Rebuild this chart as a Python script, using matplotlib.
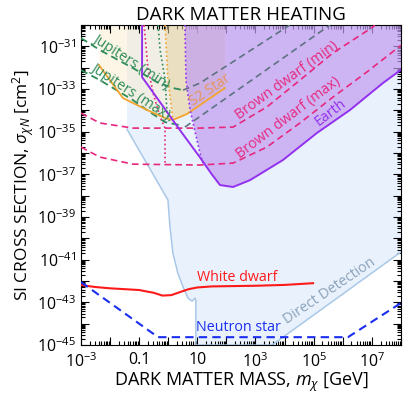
import numpy as np
import matplotlib
matplotlib.use("Agg")
import matplotlib.pyplot as plt
from matplotlib.ticker import FixedLocator, FuncFormatter, NullFormatter, LogLocator

plt.rcParams['font.family'] = ['Open Sans', 'DejaVu Sans']
plt.rcParams['mathtext.fontset'] = 'custom'
plt.rcParams['mathtext.rm'] = 'Open Sans'
plt.rcParams['mathtext.it'] = 'Open Sans:italic'
plt.rcParams['mathtext.bf'] = 'Open Sans:bold'

# all values as log10(mass / GeV), log10(sigma / cm^2)
dd_lm = [-1.42, -1.42, -0.01, 0.06, 0.16, 0.33, 0.51, 0.68, 0.82, 0.92, 0.95, 0.95, 3.57, 8.0, 8.0]
dd_ls = [-30.0, -34.88, -38.2, -39.47, -40.69, -41.63, -42.28, -42.8, -42.94, -42.8, -42.9, -45.0, -45.0, -40.64, -30.0]

s2_lm = [-2.38, -1.56, -0.73, -0.11, 0.16, 0.64, 1.95]
s2_ls = [-31.88, -33.42, -33.98, -34.36, -34.45, -34.17, -32.95]
s2_dot_lm = [-0.11, -0.01, 0.16]
s2_dot_ls = [-30.0, -32.58, -34.4]

earth_lm = [-0.90, -0.90, -0.76, 0.40, 1.09, 1.50, 1.78, 2.23, 2.81, 3.94, 5.11, 6.25, 7.38, 8.0]
earth_ls = [-30.0, -32.44, -32.7, -34.92, -36.2, -37.0, -37.5, -37.59, -37.27, -36.33, -35.06, -33.98, -32.72, -32.1]
earth_dot_lm = [0.575, 0.61, 0.75, 1.09, 1.19]
earth_dot_ls = [-30.0, -32.58, -33.98, -36.0, -36.47]

jup_min_lm = [-3.0, -2.35, -1.21, -0.39, 0.16, 0.51]
jup_min_ls = [-30.61, -31.17, -32.02, -32.67, -32.95, -33.05]
jup_max_lm = [-3.0, -2.35, -1.21, -0.63, -0.11, 0.40]
jup_max_ls = [-32.11, -32.58, -33.52, -34.08, -34.55, -34.69]
jup_dot_lm = [-0.35, -0.28, -0.11, -0.04, 0.06]
jup_dot_ls = [-30.0, -31.17, -32.53, -34.13, -34.6]
grey_up_lm = [0.51, 1.09, 4.18]
grey_up_ls = [-33.05, -32.72, -30.0]
grey_lo_lm = [0.575, 5.56]
grey_lo_ls = [-34.78, -30.0]

bd_min_lm = [-3.0, -2.35, -1.21, 1.09, 2.23, 3.39, 4.53, 5.66, 7.04, 7.1]
bd_min_ls = [-34.13, -34.59, -34.83, -34.83, -34.78, -33.84, -32.58, -31.31, -30.09, -30.0]
bd_max_lm = [-3.0, -2.35, -1.21, 1.09, 2.23, 3.39, 4.53, 5.66, 6.83, 8.0]
bd_max_ls = [-35.72, -36.19, -36.52, -36.56, -36.47, -35.72, -34.59, -33.38, -32.2, -30.95]
bd_dot_lm = [-0.83, -0.70, -0.52, -0.28, -0.11, -0.11]
bd_dot_ls = [-30.0, -31.97, -33.19, -34.31, -34.83, -36.56]

wd_lm = [-3.0, -2.5, -2.0, -1.5, -1.0, -0.5, -0.2, 0.1, 0.4, 0.7, 1.0, 1.5, 2.0, 3.0, 4.0, 4.98]
wd_ls = [-42.19, -42.28, -42.34, -42.38, -42.42, -42.55, -42.68, -42.66, -42.52, -42.38, -42.3, -42.25, -42.24, -42.22, -42.18, -42.1]
ns_lm = [-3.0, -0.35, 6.18, 8.0]
ns_ls = [-42.05, -44.63, -44.63, -43.03]

xlabel_pow = [-3, -1, 1, 3, 5, 7]
ylabel_pow = [-45, -43, -41, -39, -37, -35, -33, -31]

def P(lm, ls):
    return 10.0 ** np.asarray(lm), 10.0 ** np.asarray(ls)

fig = plt.figure(figsize=(4.07, 3.98), dpi=100)
ax = fig.add_axes([0.199, 0.133, 0.786, 0.804])
ax.set_xscale('log')
ax.set_yscale('log')
ax.set_xlim(1e-3, 1e8)
ax.set_ylim(1e-45, 1e-30)

# direct detection
x, y = P(dd_lm, dd_ls)
ax.fill(x, y, color='#e9f2fc', lw=0, zorder=1)
ax.plot(x[1:-1], y[1:-1], color='#a9c8e8', lw=1.1, zorder=2)

# S2 star regions
x, y = P(s2_lm, s2_ls)
ax.fill_between(x, y, 1e-30, color='#fbeccb', alpha=0.45, lw=0, zorder=1.5)
tan_x = np.concatenate([10.0 ** np.asarray(s2_dot_lm), x[4:], [x[-1]]])
tan_y = np.concatenate([10.0 ** np.asarray(s2_dot_ls), y[4:], [1e-30]])
ax.fill(tan_x, tan_y, color='#e6d2a4', alpha=0.55, lw=0, zorder=1.6)

# earth fill
ex, ey = P(earth_lm, earth_ls)
dx, dy = P(earth_dot_lm, earth_dot_ls)
px = np.concatenate([dx, ex[5:], [1e8]])
py = np.concatenate([dy, ey[5:], [1e-30]])
ax.fill(px, py, color='#c29cf2', alpha=0.7, lw=0, zorder=1.7)

green = '#2e8b57'
pink = '#e6287e'
grey = '#5f7282'
orange = '#f2a52e'
purple = '#9330ee'
dash = (0, (4, 2.5))
dot = (0, (1, 1.6))

ax.plot(*P(jup_min_lm, jup_min_ls), color=green, ls=dash, lw=1.3, zorder=3)
ax.plot(*P(jup_max_lm, jup_max_ls), color=green, ls=dash, lw=1.3, zorder=3)
ax.plot(*P(jup_dot_lm, jup_dot_ls), color=green, ls=dot, lw=1.2, zorder=3)
ax.plot(*P(grey_up_lm, grey_up_ls), color=grey, ls=dash, lw=1.2, zorder=3)
ax.plot(*P(grey_lo_lm, grey_lo_ls), color=grey, ls=dash, lw=1.2, zorder=3)
ax.plot(*P(bd_min_lm, bd_min_ls), color=pink, ls=dash, lw=1.2, zorder=3)
ax.plot(*P(bd_max_lm, bd_max_ls), color=pink, ls=dash, lw=1.2, zorder=3)
ax.plot(*P(bd_dot_lm, bd_dot_ls), color=pink, ls=dot, lw=1.2, zorder=3)
ax.plot(*P(s2_lm, s2_ls), color=orange, lw=1.3, zorder=3)
ax.plot(*P(s2_dot_lm, s2_dot_ls), color=orange, ls=dot, lw=1.2, zorder=3)
ax.plot(ex, ey, color=purple, lw=1.4, zorder=3.5)
ax.plot(dx, dy, color=purple, ls=dot, lw=1.2, zorder=3)
ax.plot(*P(wd_lm, wd_ls), color='#ff1a1a', lw=1.5, zorder=3)
ax.plot(*P(ns_lm, ns_ls), color='#1a2ef0', ls=dash, lw=1.5, zorder=3)

def T(lm, ls, s, c, rot=0, fs=10.3):
    ax.text(10 ** lm, 10 ** ls, s, color=c, rotation=rot, fontsize=fs,
            ha='center', va='center', rotation_mode='anchor', zorder=5)

T(-1.28, -31.73, 'Jupiters (min)', green, -33)
T(-1.28, -33.14, 'Jupiters (max)', green, -33)
T(1.43, -33.05, 'S2 Star', '#e8955a', 34)
T(4.08, -32.58, 'Brown dwarf (min)', pink, 36)
T(4.12, -34.36, 'Brown dwarf (max)', pink, 37)
T(5.59, -34.08, 'Earth', purple, 37)
T(2.36, -41.81, 'White dwarf', '#ff1a1a')
T(2.40, -44.2, 'Neutron star', '#1a2ef0')
T(5.56, -42.47, 'Direct Detection', '#8ca2ba', 34)

def xfmt(v, pos):
    p = int(round(np.log10(v)))
    if p not in xlabel_pow:
        return ''
    if p == -1:
        return '0.1'
    if p == 1:
        return '10'
    return r'$10^{%d}$' % p

def yfmt(v, pos):
    p = int(round(np.log10(v)))
    if p not in ylabel_pow:
        return ''
    return r'$10^{%d}$' % p

ax.xaxis.set_major_locator(FixedLocator([10.0 ** k for k in range(-3, 9)]))
ax.yaxis.set_major_locator(FixedLocator([10.0 ** k for k in range(-45, -29)]))
ax.xaxis.set_major_formatter(FuncFormatter(xfmt))
ax.yaxis.set_major_formatter(FuncFormatter(yfmt))
ax.xaxis.set_minor_locator(LogLocator(base=10, subs=np.arange(2, 10), numticks=30))
ax.yaxis.set_minor_locator(LogLocator(base=10, subs=np.arange(2, 10), numticks=30))
ax.xaxis.set_minor_formatter(NullFormatter())
ax.yaxis.set_minor_formatter(NullFormatter())
ax.tick_params(which='both', direction='in', top=True, right=True, labelsize=11.5, width=0.8)
ax.tick_params(which='major', length=6)
ax.tick_params(which='minor', length=3)
ax.tick_params(axis='x', pad=5)

ax.set_xlabel(r'DARK MATTER MASS, $m_\chi$ [GeV]', fontsize=13, labelpad=0)
ax.set_ylabel(r'SI CROSS SECTION, $\sigma_{\chi N}$ [cm$^2$]', fontsize=12.5, labelpad=1)
ax.set_title('DARK MATTER HEATING', fontsize=13.5, pad=4)

fig.savefig('out.png', dpi=100)
